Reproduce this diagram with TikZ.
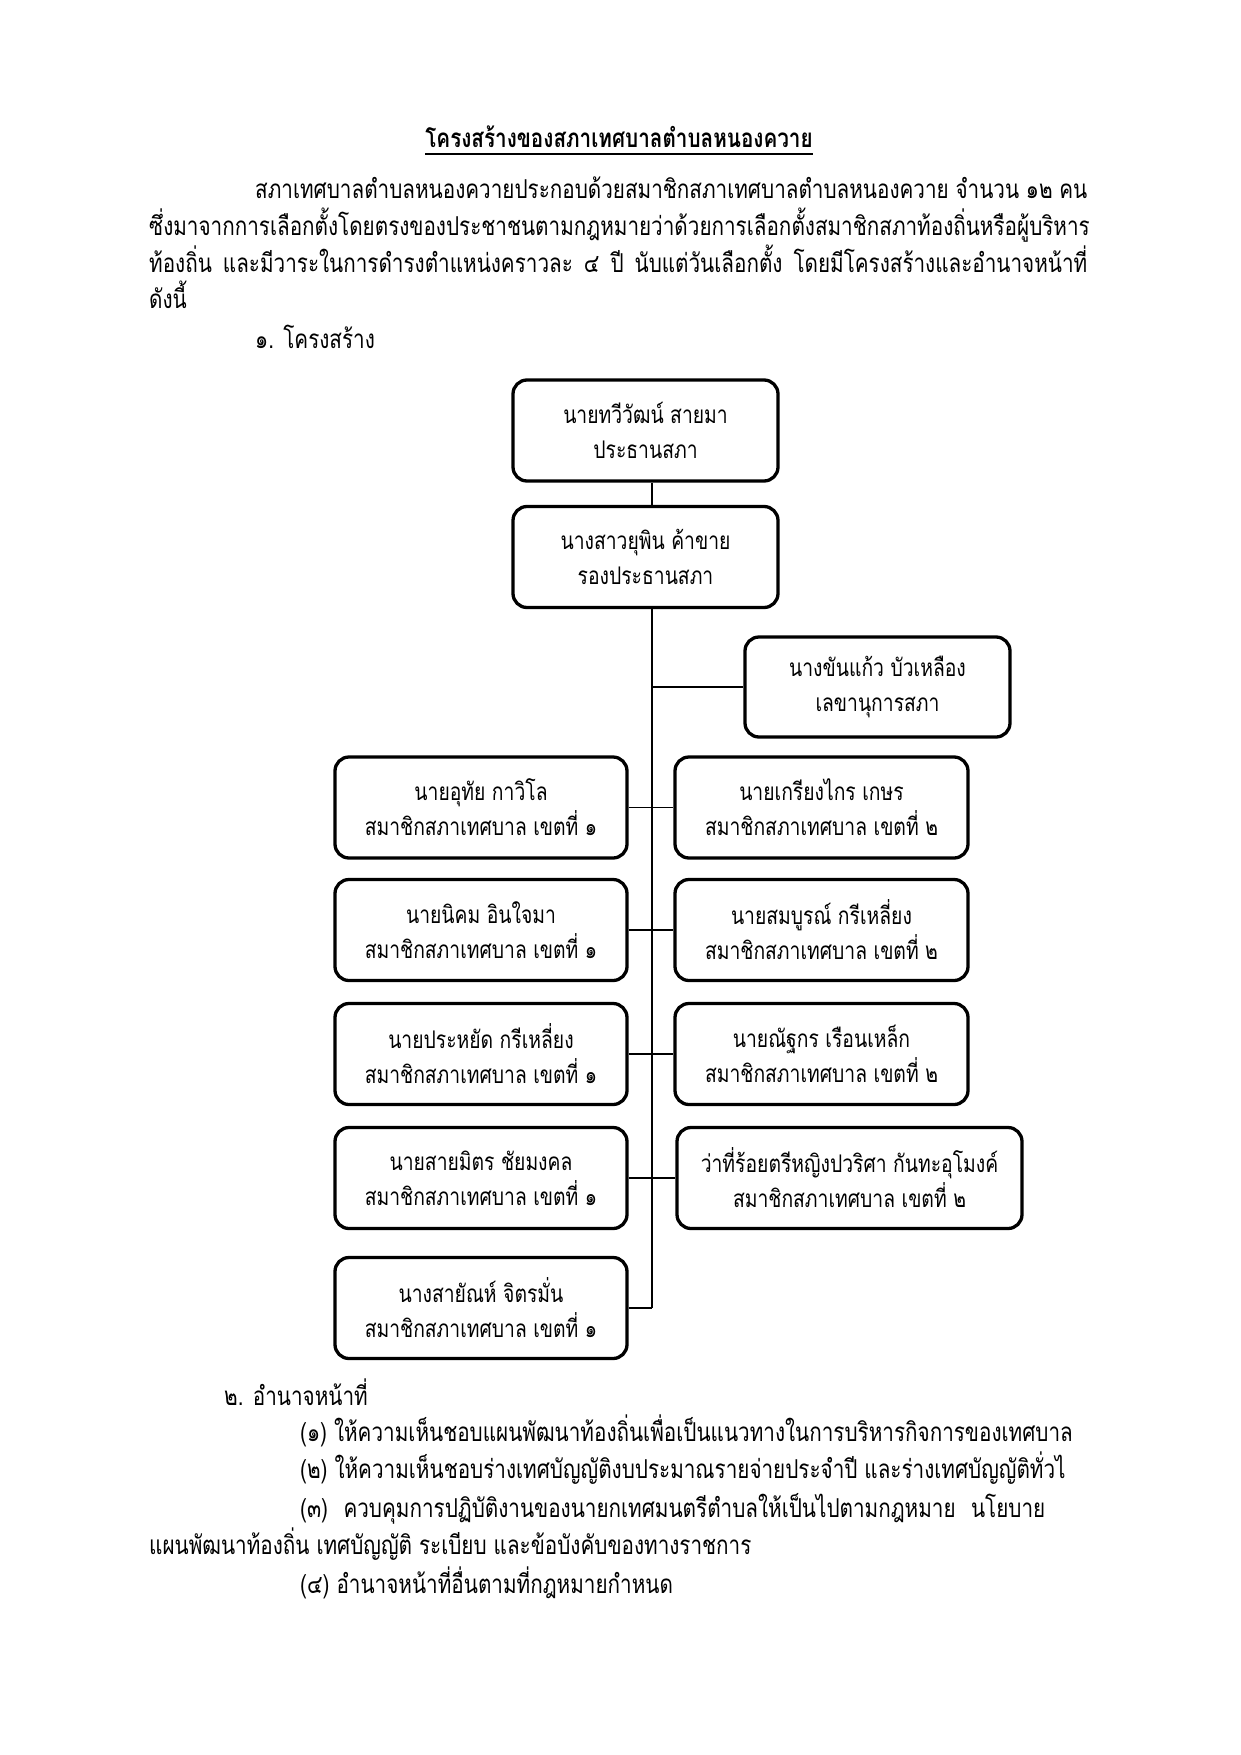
\documentclass[tikz,border=0pt]{standalone}
\usepackage{fontspec}
\newfontfamily\thfont[Script=Thai,FakeStretch=0.795]{Loma}
\newcommand\bodyfont{\thfont\fontsize{26}{37}\selectfont}
\newcommand\boxfont{\thfont\fontsize{24.3}{35}\selectfont}
\tikzset{
  orgbox/.style={draw, line width=3.3pt, rounded corners=14pt, minimum height=101pt, align=center, inner sep=0pt, font=\boxfont},
  link/.style={line width=1.8pt},
  txt/.style={anchor=base west, inner sep=0pt, font=\bodyfont},
}
\begin{document}
\begin{tikzpicture}[x=1pt,y=-1pt]
\useasboundingbox[fill=white] (0,0) rectangle (1241,1755);

% heading and paragraph
\node[txt, anchor=base, font=\bodyfont\bfseries] (title) at (619,148) {โครงสร้างของสภาเทศบาลตำบลหนองควาย};
\draw[line width=1.3pt] ([yshift=-6pt]title.base west) -- ([yshift=-6pt]title.base east);
\node[txt] (p1) at (255,198) {\makebox[832pt][s]{สภาเทศบาลตำบลหนองควายประกอบด้วยสมาชิกสภาเทศบาลตำบลหนองควาย จำนวน ๑๒ คน}};
\node[txt] (p2) at (149,235) {ซึ่งมาจากการเลือกตั้งโดยตรงของประชาชนตามกฎหมายว่าด้วยการเลือกตั้งสมาชิกสภาท้องถิ่นหรือผู้บริหาร};
\node[txt] (p3) at (149,272) {\makebox[938pt][s]{ท้องถิ่น และมีวาระในการดำรงตำแหน่งคราวละ ๔ ปี นับแต่วันเลือกตั้ง โดยมีโครงสร้างและอำนาจหน้าที่}};
\node[txt] (p4) at (149,308) {ดังนี้};
\node[txt] (h1) at (255,348) {๑. โครงสร้าง};

% boxes
\node[orgbox, minimum width=265pt] (chair) at (645.5,430.5) {นายทวีวัฒน์ สายมา\\ประธานสภา};
\node[orgbox, minimum width=265pt] (vice) at (645.5,557) {นางสาวยุพิน ค้าขาย\\รองประธานสภา};
\node[orgbox, minimum width=265pt, minimum height=100pt] (sec) at (877.5,687) {นางขันแก้ว บัวเหลือง\\เลขานุการสภา};
\node[orgbox, minimum width=292pt] (l1) at (481,807.5) {นายอุทัย กาวิโล\\สมาชิกสภาเทศบาล เขตที่ ๑};
\node[orgbox, minimum width=293pt] (r1) at (821.5,807.5) {นายเกรียงไกร เกษร\\สมาชิกสภาเทศบาล เขตที่ ๒};
\node[orgbox, minimum width=292pt] (l2) at (481,930) {นายนิคม อินใจมา\\สมาชิกสภาเทศบาล เขตที่ ๑};
\node[orgbox, minimum width=293pt] (r2) at (821.5,930) {นายสมบูรณ์ กรีเหลี่ยง\\สมาชิกสภาเทศบาล เขตที่ ๒};
\node[orgbox, minimum width=292pt] (l3) at (481,1054) {นายประหยัด กรีเหลี่ยง\\สมาชิกสภาเทศบาล เขตที่ ๑};
\node[orgbox, minimum width=293pt] (r3) at (821.5,1054) {นายณัฐกร เรือนเหล็ก\\สมาชิกสภาเทศบาล เขตที่ ๒};
\node[orgbox, minimum width=292pt] (l4) at (481,1178) {นายสายมิตร ชัยมงคล\\สมาชิกสภาเทศบาล เขตที่ ๑};
\node[orgbox, minimum width=345pt] (r4) at (849.5,1178) {ว่าที่ร้อยตรีหญิงปวริศา กันทะอุโมงค์\\สมาชิกสภาเทศบาล เขตที่ ๒};
\node[orgbox, minimum width=292pt] (l5) at (481,1308) {นางสายัณห์ จิตรมั่น\\สมาชิกสภาเทศบาล เขตที่ ๑};

% connectors
\coordinate (t) at (652,0);
\coordinate (tend) at (l5.east -| t);
\draw[link] (chair.south -| t) -- (vice.north -| t);
\draw[link] (vice.south -| t) -- (tend);
\draw[link] (sec.west -| t) -- (sec.west);
\draw[link] (l1.east) -- (r1.west);
\draw[link] (l2.east) -- (r2.west);
\draw[link] (l3.east) -- (r3.west);
\draw[link] (l4.east) -- (r4.west);
\draw[link] (l5.east) -- (tend);

% duties
\node[txt] (h2) at (224,1405) {๒. อำนาจหน้าที่};
\node[txt] (i1) at (300,1441) {(๑) ให้ความเห็นชอบแผนพัฒนาท้องถิ่นเพื่อเป็นแนวทางในการบริหารกิจการของเทศบาล};
\node[txt] (i2) at (300,1478) {(๒) ให้ความเห็นชอบร่างเทศบัญญัติงบประมาณรายจ่ายประจำปี และร่างเทศบัญญัติทั่วไ};
\node[txt] (i3) at (300,1517) {\makebox[745pt][s]{(๓) ควบคุมการปฏิบัติงานของนายกเทศมนตรีตำบลให้เป็นไปตามกฎหมาย นโยบาย}};
\node[txt] (i3b) at (149,1554) {แผนพัฒนาท้องถิ่น เทศบัญญัติ ระเบียบ และข้อบังคับของทางราชการ};
\node[txt] (i4) at (300,1593) {(๔) อำนาจหน้าที่อื่นตามที่กฎหมายกำหนด};
\end{tikzpicture}
\end{document}
